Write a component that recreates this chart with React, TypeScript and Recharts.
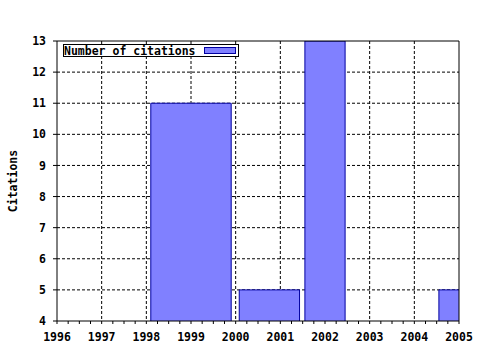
import {
  ComposedChart,
  XAxis,
  YAxis,
  CartesianGrid,
  ReferenceArea,
  Scatter
} from "recharts";

const years = [1999, 2001, 2002, 2005];
const citations = [11, 5, 13, 5];
// box extents as gnuplot drew them (boxes with automatic width)
const boxStart = [1998.1, 2000.08, 2001.55, 2004.55];
const boxEnd = [1999.9, 2001.43, 2002.45, 2005.45];

const xTicks = [1996, 1997, 1998, 1999, 2000, 2001, 2002, 2003, 2004, 2005];
const yTicks = [4, 5, 6, 7, 8, 9, 10, 11, 12, 13];
const seriesName = "Number of citations";

const FONT = "'DejaVu Sans Mono', monospace";
const FILL = "#8080ff";
const EDGE = "#0000a0";

const data = years.map((y, i) => ({
  year: y,
  value: citations[i],
  start: boxStart[i],
  end: boxEnd[i]
}));

// quarter-year ticks, labels only on whole years
const allXTicks = xTicks.flatMap((y, i) =>
  i < xTicks.length - 1 ? [y, y + 0.25, y + 0.5, y + 0.75] : [y]
);
const yearLabel = (v: number) => (Number.isInteger(v) ? String(v) : "");

const tickStyle = { fontFamily: FONT, fontSize: 11.5, fontWeight: "bold", fill: "#000" };

export default function App() {
  return (
    <div style={{ position: "fixed", left: 0, top: 0, width: 480, height: 350, background: "#fff" }}>
      <ComposedChart
        width={480}
        height={350}
        data={data}
        margin={{ top: 40, right: 20, bottom: 0, left: 0 }}
      >
        <CartesianGrid
          stroke="#000"
          strokeDasharray="3 2"
          verticalValues={xTicks.slice(1, -1)}
          horizontalValues={yTicks.slice(1, -1)}
        />
        <XAxis
          dataKey="year"
          type="number"
          domain={[1996, 2005]}
          ticks={allXTicks}
          interval={0}
          allowDataOverflow
          tickFormatter={yearLabel}
          tick={tickStyle}
          tickSize={3}
          tickMargin={9}
          height={29}
          axisLine={{ stroke: "#000" }}
          tickLine={{ stroke: "#000" }}
        />
        <XAxis
          xAxisId="top"
          orientation="top"
          type="number"
          domain={[1996, 2005]}
          ticks={allXTicks}
          interval={0}
          allowDataOverflow
          tickFormatter={() => ""}
          tickSize={3}
          height={1}
          axisLine={{ stroke: "#000" }}
          tickLine={{ stroke: "#000" }}
        />
        <YAxis
          type="number"
          domain={[4, 13]}
          ticks={yTicks}
          interval={0}
          allowDataOverflow
          tick={tickStyle}
          tickSize={4}
          tickMargin={7}
          width={57}
          axisLine={{ stroke: "#000" }}
          tickLine={{ stroke: "#000" }}
          label={{
            value: "Citations",
            angle: -90,
            position: "insideLeft",
            offset: 13,
            style: { ...tickStyle, textAnchor: "middle" }
          }}
        />
        <YAxis
          yAxisId="right"
          orientation="right"
          type="number"
          domain={[4, 13]}
          ticks={yTicks}
          interval={0}
          tickFormatter={() => ""}
          tickSize={4}
          width={1}
          axisLine={{ stroke: "#000" }}
          tickLine={{ stroke: "#000" }}
        />

        {data.map((d) => (
          <ReferenceArea
            key={d.year}
            x1={d.start}
            x2={d.end}
            y1={0}
            y2={d.value}
            ifOverflow="hidden"
            fill={FILL}
            fillOpacity={1}
            stroke={EDGE}
            strokeWidth={1}
          />
        ))}

        <Scatter dataKey="value" name={seriesName} fill="none" isAnimationActive={false} shape={() => null} />
      </ComposedChart>

      <div
        style={{
          position: "absolute",
          left: 63,
          top: 44,
          width: 174,
          height: 11,
          border: "1px solid #000",
          background: "#fff",
          fontFamily: FONT,
          fontSize: 11.5,
          fontWeight: "bold",
          lineHeight: "11px",
          whiteSpace: "nowrap"
        }}
      >
        <span style={{ position: "absolute", left: 0, top: 1 }}>{seriesName}</span>
        <span
          style={{
            position: "absolute",
            left: 140,
            top: 2,
            width: 30,
            height: 5,
            background: FILL,
            border: `1px solid ${EDGE}`
          }}
        />
      </div>
    </div>
  );
}
